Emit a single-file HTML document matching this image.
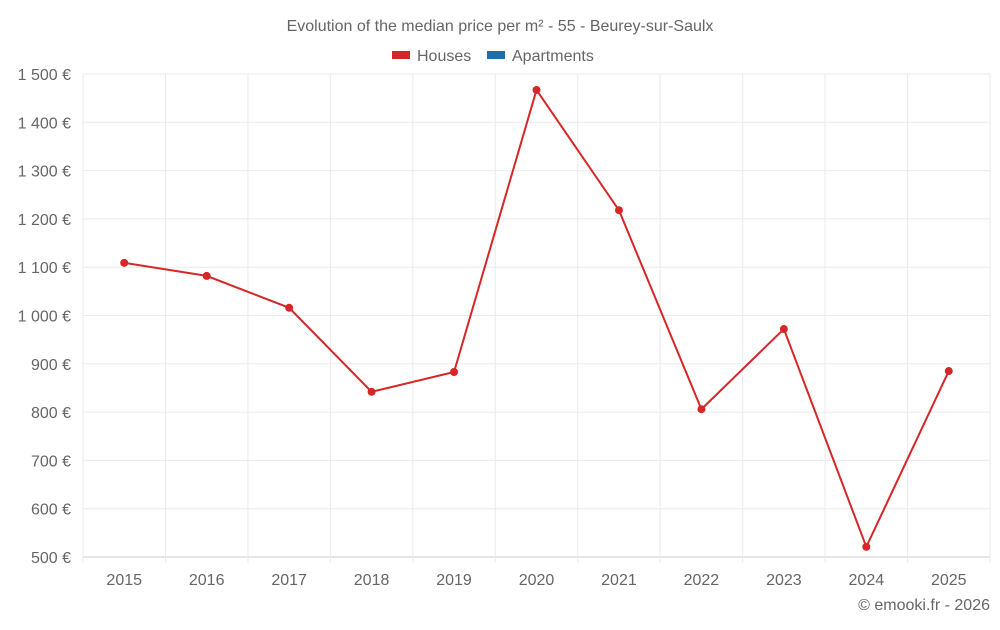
<!DOCTYPE html>
<html><head><meta charset="utf-8"><style>
body{margin:0;background:#fff;font-family:"Liberation Sans",sans-serif;}
svg text{font-family:"Liberation Sans",sans-serif;fill:#666;}
</style></head><body>
<svg id="c" width="1000" height="625">
<text x="500" y="31" text-anchor="middle" font-size="16">Evolution of the median price per m² - 55 - Beurey-sur-Saulx</text>
<g>
<rect x="392" y="51" width="18" height="8" fill="#d62728"/>
<text x="417" y="61" font-size="16">Houses</text>
<rect x="487" y="51" width="18" height="8" fill="#1f6ea8"/>
<text x="512" y="61" font-size="16">Apartments</text>
</g>
<g id="grid"></g><g id="axes"></g><g id="series"></g>
<text x="990" y="610" text-anchor="end" font-size="16">© emooki.fr - 2026</text>
</svg>
<script>
const years=["2015","2016","2017","2018","2019","2020","2021","2022","2023","2024","2025"];
const houses=[1109,1082,1016,842,883,1467,1218,806,972,521,885];
const yTicks=[500,600,700,800,900,1000,1100,1200,1300,1400,1500];
const yTickLabels=["500 €","600 €","700 €","800 €","900 €","1 000 €","1 100 €","1 200 €","1 300 €","1 400 €","1 500 €"];
const L=83,R=990,T=74,B=557,ymin=500,ymax=1500;
const ns="http://www.w3.org/2000/svg";
const bw=(R-L)/years.length;
const x=i=>L+bw*(i+0.5);
const y=v=>B-(v-ymin)/(ymax-ymin)*(B-T);
function mk(t,a,p){const e=document.createElementNS(ns,t);for(const k in a)e.setAttribute(k,a[k]);p.appendChild(e);return e;}
const g=document.getElementById('grid'),ax=document.getElementById('axes'),s=document.getElementById('series');
yTicks.forEach((v,i)=>{
 const l=mk('line',{x1:L,x2:R,y1:y(v),y2:y(v),stroke:i==0?'#ccc':'#ebebeb','stroke-width':1},g);
 
 
 const t=mk('text',{x:71,y:y(v)+6,'text-anchor':'end','font-size':16},ax);
 t.textContent=yTickLabels[i];
 
 
});
for(let i=0;i<=years.length;i++){
 const l=mk('line',{x1:L+bw*i,x2:L+bw*i,y1:T,y2:B+6,stroke:'#ebebeb','stroke-width':1},g);
 
 
}
years.forEach((yr,i)=>{
 const t=mk('text',{x:x(i),y:585,'text-anchor':'middle','font-size':16},ax);
 t.textContent=yr;
 
 
});
const p=mk('polyline',{points:houses.map((v,i)=>x(i)+','+y(v)).join(' '),fill:'none',stroke:'#d62728','stroke-width':2},s);


houses.forEach((v,i)=>{
 const c=mk('circle',{cx:x(i),cy:y(v),r:4,fill:'#d62728'},s);
 
 
});
</script>
</body></html>
